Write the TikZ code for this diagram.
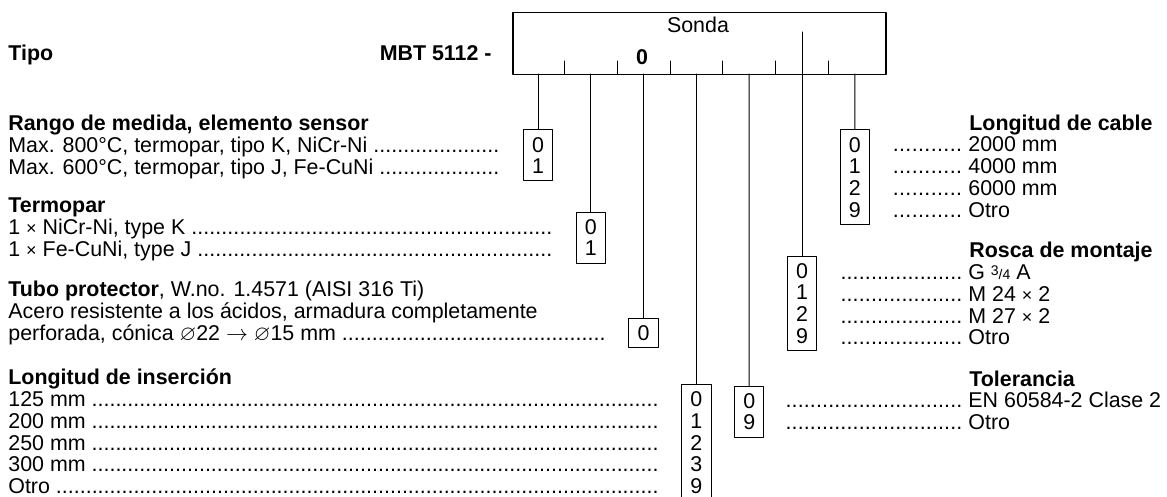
\documentclass[tikz,border=0pt]{standalone}
\usepackage{amsmath,amssymb}
\usepackage{fontspec}
\setmainfont{Liberation Sans}
\usetikzlibrary{positioning}
\newcommand{\dotsto}[2]{\hbox to #1{#2\ \xleaders\hbox{.}\hfill}}
\newcommand{\dotsfrom}[2]{\hbox to #1{\xleaders\hbox{.}\hfill}\ #2}
\newcommand{\por}{{\small×}}

\begin{document}
\begin{tikzpicture}[x=0.5pt,y=-0.5pt,font=\fontsize{10.7}{10.875}\selectfont,line join=round,line cap=round,
        optbox/.style={draw,line width=0.5pt,align=center,anchor=north,minimum width=14.75pt,inner xsep=0pt,inner ysep=3.55pt,text depth=0pt},
        txt/.style={anchor=base west,inner sep=0pt},
        hd/.style={txt,font=\fontsize{10.7}{10.875}\selectfont\bfseries}]
        \useasboundingbox (0,0) rectangle (1167,497);
        \def\wrango{245.5pt} \def\wtermo{271.9pt} \def\wtubo{298.5pt} \def\wins{324.9pt}
        % cabecera
        \node[hd] (tipo) at (8,60.7) {Tipo};
        \node[hd,anchor=base east] (mbt) at (492,60.7) {MBT 5112 -};
        \node[draw,line width=0.75pt,anchor=north west,minimum width=186.5pt,minimum height=31pt,inner sep=0pt] (sonda) at (512,12) {};
        \node[anchor=base,inner sep=0pt] (sondatxt) at (698,32.7) {Sonda};
        \node[hd,anchor=base] (cero) at (642,64.7) {0};
        \foreach \i in {0,...,5} \draw[line width=0.5pt] (564.4+52.8*\i,74) -- ++(0,-13);
        \foreach \i in {0,...,6} \coordinate (s\i) at (538+52.8*\i,74);
        \coordinate (s5top) at (802,32);
        % casillas
        \node[optbox] (o0) at (538,129.5) {0\\1};
        \node[optbox] (o1) at (590.8,211.7) {0\\1};
        \node[optbox] (o2) at (643.6,317.7) {0};
        \node[optbox] (o3) at (696.4,384) {0\\1\\2\\3\\9};
        \node[optbox] (o4) at (749.2,385.7) {0\\9};
        \node[optbox] (o5) at (802,255.7) {0\\1\\2\\9};
        \node[optbox] (o6) at (854.8,129.5) {0\\1\\2\\9};
        \foreach \i in {0,1,2,3,4,6} \draw[line width=0.5pt] (s\i) -- (o\i.north);
        \draw[line width=0.5pt] (s5top) -- (o5.north);
        % columna izquierda
        \node[hd] (rango) at (8,130.2) {Rango de medida, elemento sensor};
        \node[txt] (r0) at (8,152.2) {\dotsto{\wrango}{Max. 800°C, termopar, tipo K, NiCr-Ni}};
        \node[txt] (r1) at (8,174.2) {\dotsto{\wrango}{Max. 600°C, termopar, tipo J, Fe-CuNi}};
        \node[hd] (termo) at (8,212.2) {Termopar};
        \node[txt] (t0) at (8,234.2) {\dotsto{\wtermo}{1 \por{} NiCr-Ni, type K}};
        \node[txt] (t1) at (8,256.2) {\dotsto{\wtermo}{1 \por{} Fe-CuNi, type J}};
        \node[txt] (tubo) at (8,296.2) {\textbf{Tubo protector}, W.no. 1.4571 (AISI 316 Ti)};
        \node[txt] (tubo1) at (8,318.2) {Acero resistente a los ácidos, armadura completamente};
        \node[txt] (tubo2) at (8,340.2) {\dotsto{\wtubo}{perforada, cónica $\varnothing$22 $\rightarrow$ $\varnothing$15 mm}};
        \node[hd] (insercion) at (8,384.5) {Longitud de inserción};
        \node[txt] (l0) at (8,406.5) {\dotsto{\wins}{125 mm}};
        \node[txt] (l1) at (8,428.3) {\dotsto{\wins}{200 mm}};
        \node[txt] (l2) at (8,450) {\dotsto{\wins}{250 mm}};
        \node[txt] (l3) at (8,471.8) {\dotsto{\wins}{300 mm}};
        \node[txt] (l4) at (8,493.5) {\dotsto{\wins}{Otro}};
        % columna derecha
        \node[hd] (cable) at (969,130.4) {Longitud de cable};
        \node[txt] (c0) at (892,152) {\dotsfrom{35pt}{2000 mm}};
        \node[txt] (c1) at (892,173.8) {\dotsfrom{35pt}{4000 mm}};
        \node[txt] (c2) at (892,195.5) {\dotsfrom{35pt}{6000 mm}};
        \node[txt] (c3) at (892,217.3) {\dotsfrom{35pt}{Otro}};
        \node[hd] (rosca) at (969,257.7) {Rosca de montaje};
        \node[txt] (m0) at (840,279.5) {\dotsfrom{61pt}{G {\scriptsize\raisebox{0.6ex}{3}/4} A}};
        \node[txt] (m1) at (840,301.3) {\dotsfrom{61pt}{M 24 \por{} 2}};
        \node[txt] (m2) at (840,323) {\dotsfrom{61pt}{M 27 \por{} 2}};
        \node[txt] (m3) at (840,344.8) {\dotsfrom{61pt}{Otro}};
        \node[hd] (tol) at (969,386.2) {Tolerancia};
        \node[txt] (e0) at (785,407.5) {\dotsfrom{88.5pt}{EN 60584-2 Clase 2}};
        \node[txt] (e1) at (785,429) {\dotsfrom{88.5pt}{Otro}};
\end{tikzpicture}
\end{document}
